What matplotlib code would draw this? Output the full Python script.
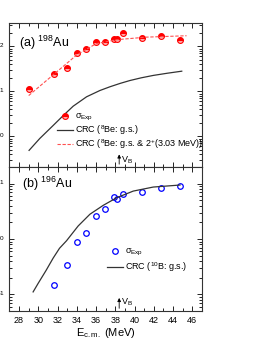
import numpy as np
import matplotlib
matplotlib.use('Agg')
import matplotlib.pyplot as plt
from matplotlib.ticker import MultipleLocator, LogLocator, NullFormatter

plt.rcParams['font.family'] = ['Liberation Sans', 'DejaVu Sans']
plt.rcParams['mathtext.fontset'] = 'custom'
plt.rcParams['mathtext.rm'] = 'Liberation Sans'
plt.rcParams['mathtext.it'] = 'Liberation Sans:italic'
plt.rcParams['mathtext.bf'] = 'Liberation Sans:bold'

# (a) 198Au data
e_au198 = [29.0, 31.6, 33.0, 34.0, 35.0, 36.0, 36.9, 37.9, 38.2, 38.8, 40.8, 42.7, 44.7]
sig_au198 = [11.5, 25, 34, 72, 87, 127, 127, 143, 146, 198, 158, 173, 141]
# CRC 8Be g.s.
crc_gs_e = [29.04, 30.15, 31.54, 32.58, 33.62, 35.01, 36.4, 37.44, 38.5, 39.52, 40.7, 41.94, 43.4, 44.9]
crc_gs_s = [0.49, 0.90, 1.75, 2.9, 4.7, 7.6, 10.5, 12.7, 15.1, 17.5, 20.1, 22.7, 25.4, 28.2]
# CRC 8Be g.s. + 2+
crc_2p_e = [29.0, 31.6, 34.0, 36.0, 38.1, 41.2, 45.4]
crc_2p_s = [8.1, 23.9, 65, 115, 141, 161, 173]

# (b) 196Au data
e_au196 = [31.6, 33.0, 34.0, 35.0, 36.0, 36.9, 37.9, 38.2, 38.8, 40.8, 42.7, 44.7]
sig_au196 = [0.147, 0.346, 0.89, 1.30, 2.58, 3.45, 5.8, 5.25, 6.6, 7.2, 8.45, 9.2]
# CRC 10B g.s.
crc_b_e = [29.46, 29.98, 30.8, 31.54, 32.2, 32.93, 34.14, 35.36, 36.74, 38.14, 39.86, 41.94, 44.72]
crc_b_s = [0.111, 0.158, 0.27, 0.452, 0.68, 0.93, 1.72, 2.8, 4.05, 5.56, 7.33, 8.67, 9.43]

v_b = 38.4
xticks = [28, 30, 32, 34, 36, 38, 40, 42, 44, 46]

fig = plt.figure(figsize=(2.55, 3.4), dpi=100)
ax1 = fig.add_axes([0.037, 0.509, 0.755, 0.423])
ax2 = fig.add_axes([0.037, 0.085, 0.755, 0.424])

for ax in (ax1, ax2):
    ax.set_yscale('log')
    ax.set_xlim(27, 47)
    ax.set_xticks(xticks)
    ax.xaxis.set_minor_locator(MultipleLocator(1))
    ax.yaxis.set_minor_locator(LogLocator(base=10, subs=np.arange(2, 10)))
    ax.yaxis.set_minor_formatter(NullFormatter())
    ax.tick_params(which='both', direction='in', top=True, right=True, labelsize=6.5, width=0.6)
    ax.tick_params(which='major', length=3.5)
    ax.tick_params(which='minor', length=2)
    for s in ax.spines.values():
        s.set_linewidth(0.8)
        s.set_color('#333333')

# top panel
ax1.set_ylim(0.21, 330)
ax1.plot(e_au198, sig_au198, 'o', color='red', ms=4.2, mew=0.8, fillstyle='top',
         markerfacecoloralt='#ffb0b0', label='σ$_{\\mathrm{Exp}}$')
ax1.plot(crc_gs_e, crc_gs_s, '-', color='#333333', lw=0.9, label='CRC ($^{8}$Be: g.s.)')
ax1.plot(crc_2p_e, crc_2p_s, '--', color='#ff5050', lw=0.8, dashes=(3, 1.5),
         label='CRC ($^{8}$Be: g.s. & 2$^{+}$(3.03 MeV))')
ax1.tick_params(labelbottom=False)
ax1.text(0.05, 0.86, '(a) $^{198}$Au', transform=ax1.transAxes, fontsize=9, va='center')
ax1.annotate('', xy=(v_b, 0.46), xytext=(v_b, 0.21),
             arrowprops=dict(arrowstyle='-|>', color='black', lw=0.6, mutation_scale=5))
ax1.text(v_b + 0.2, 0.30, 'V$_{\\mathrm{B}}$', fontsize=6.5, va='center')
ax1.legend(loc='lower left', bbox_to_anchor=(0.245, 0.11), frameon=False, fontsize=6.5,
           handlelength=1.85, handletextpad=0.2, borderpad=0, borderaxespad=0,
           labelspacing=0.02, markerscale=1.0)

# bottom panel
ax2.set_ylim(0.05, 20)
ax2.plot(e_au196, sig_au196, 'o', color='blue', mfc='none', ms=4, mew=0.9, label='σ$_{\\mathrm{Exp}}$')
ax2.plot(crc_b_e, crc_b_s, '-', color='#333333', lw=0.9, label='CRC ($^{10}$B: g.s.)')
ax2.text(0.065, 0.88, '(b) $^{196}$Au', transform=ax2.transAxes, fontsize=9, va='center')
ax2.annotate('', xy=(v_b, 0.097), xytext=(v_b, 0.05),
             arrowprops=dict(arrowstyle='-|>', color='black', lw=0.6, mutation_scale=5))
ax2.text(v_b + 0.2, 0.072, 'V$_{\\mathrm{B}}$', fontsize=6.5, va='center')
ax2.legend(loc='lower left', bbox_to_anchor=(0.505, 0.255), frameon=False, fontsize=6.5,
           handlelength=1.85, handletextpad=0.2, borderpad=0, borderaxespad=0,
           labelspacing=0.25)
ax2.set_xlabel('E$_{\\mathrm{c.m.}}$ (MeV)', fontsize=8, labelpad=1)

fig.savefig('out.png', dpi=100)
